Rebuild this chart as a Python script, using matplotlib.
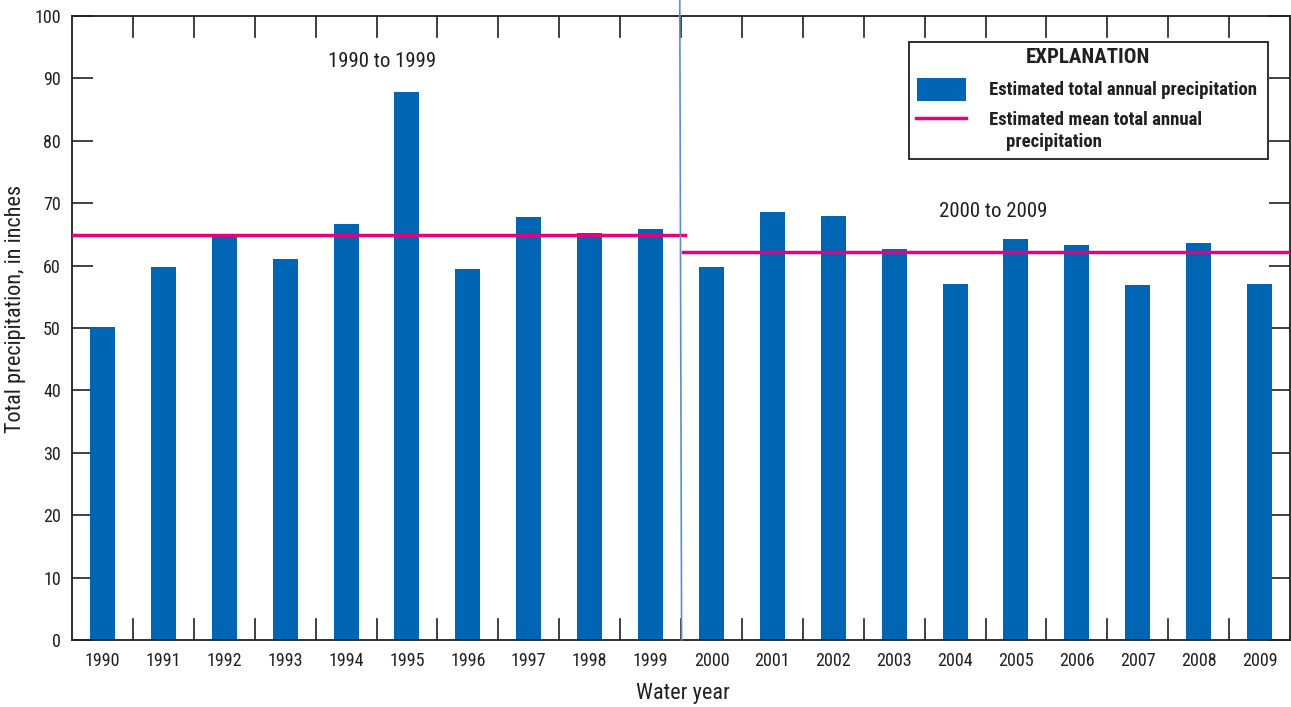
import matplotlib
matplotlib.use("Agg")
import matplotlib.pyplot as plt
from matplotlib.patches import Rectangle
from matplotlib.lines import Line2D
import numpy as np

# Annual precipitation by water year
years = [str(y) for y in range(1990, 2010)]
precip = [50.2, 59.8, 64.9, 61.1, 66.7, 87.8, 59.5, 67.8, 65.2, 65.9,
          59.8, 68.6, 67.9, 62.7, 57.1, 64.3, 63.3, 56.9, 63.6, 57.1]
period_labels = ["1990 to 1999", "2000 to 2009"]
legend_title = "EXPLANATION"
legend_bar = "Estimated total annual precipitation"
legend_line = ["Estimated mean total annual", "precipitation"]

plt.rcParams["font.family"] = ["Roboto Condensed", "DejaVu Sans"]

BLUE = "#0066b3"
PINK = "#e6007e"
INK = "#231f20"

W, H = 1291, 707
fig = plt.figure(figsize=(W / 100, H / 100), dpi=100)
ax = fig.add_axes([72 / W, 67 / H, 1218 / W, 624 / H])

x = np.arange(len(years))
ax.bar(x, precip, width=0.41, color=BLUE, zorder=2)

# Period means
m1 = np.mean(precip[:10])
m2 = np.mean(precip[10:])
ax.plot([-0.5, 9.56], [m1, m1], color=PINK, lw=2.5, zorder=3)
ax.plot([9.54, 19.5], [m2, m2], color=PINK, lw=2.5, zorder=3)

# Divider between decades
ax.plot([9.48, 9.51], [102.6, 0], color="#5b8fc7", lw=1.2, zorder=4, clip_on=False)

ax.set_xlim(-0.5, 19.5)
ax.set_ylim(0, 100)
ax.set_yticks(range(0, 101, 10))
ax.set_xticks(x)
ax.set_xticklabels(years)
ax.tick_params(axis="x", length=0, pad=9, labelsize=13, colors=INK)
ax.tick_params(axis="y", direction="in", length=15, width=1.2, left=True, right=True,
               labelsize=13, pad=8, colors=INK)

# Category boundary ticks at top and bottom
for b in np.arange(0.5, 19.5, 1.0):
    ax.plot([b, b], [0, 3.4], color=INK, lw=1.2, zorder=1)
    ax.plot([b, b], [100, 96.6], color=INK, lw=1.2, zorder=1)

for s in ax.spines.values():
    s.set_linewidth(1.3)
    s.set_color(INK)

tr = ax.transAxes
def ax_xy(px, py):
    return ((px - 72) / 1218, (640 - py) / 624)

# Axis titles
fig.text(16 / W, 1 - 309 / H, "Total precipitation, in inches", rotation=90,
         fontsize=16, color=INK, ha="center", va="center")
fig.text(683 / W, 1 - 693 / H, "Water year", fontsize=16, color=INK,
         ha="center", va="center")

ax.text(*ax_xy(382, 62), period_labels[0], transform=tr, fontsize=15,
        ha="center", va="center", color=INK)
ax.text(*ax_xy(993, 212), period_labels[1], transform=tr, fontsize=15,
        ha="center", va="center", color=INK)

# Explanation box
x0, y0 = ax_xy(909, 159)
x1, y1 = ax_xy(1268, 42)
ax.add_patch(Rectangle((x0, y0), x1 - x0, y1 - y0, transform=tr, facecolor="white",
                       edgecolor=INK, lw=1.3, zorder=5))
ax.text(*ax_xy(1088, 58), legend_title, transform=tr, fontsize=15, fontweight="bold",
        ha="center", va="center", zorder=6, color=INK)
px0, py0 = ax_xy(917, 101)
px1, py1 = ax_xy(966, 78)
ax.add_patch(Rectangle((px0, py0), px1 - px0, py1 - py0, transform=tr,
                       facecolor=BLUE, edgecolor="none", zorder=6))
lx0, ly = ax_xy(916, 118)
lx1, _ = ax_xy(966, 118)
ax.add_line(Line2D([lx0, lx1], [ly, ly], transform=tr, color=PINK, lw=2.5, zorder=6))
ax.text(*ax_xy(989, 90), legend_bar, transform=tr, fontsize=13.5, fontweight="bold",
        ha="left", va="center", zorder=6, color=INK)
ax.text(*ax_xy(989, 120), legend_line[0], transform=tr, fontsize=13.5, fontweight="bold",
        ha="left", va="center", zorder=6, color=INK)
ax.text(*ax_xy(1006, 142), legend_line[1], transform=tr, fontsize=13.5, fontweight="bold",
        ha="left", va="center", zorder=6, color=INK)

fig.savefig("out.png", dpi=100)
